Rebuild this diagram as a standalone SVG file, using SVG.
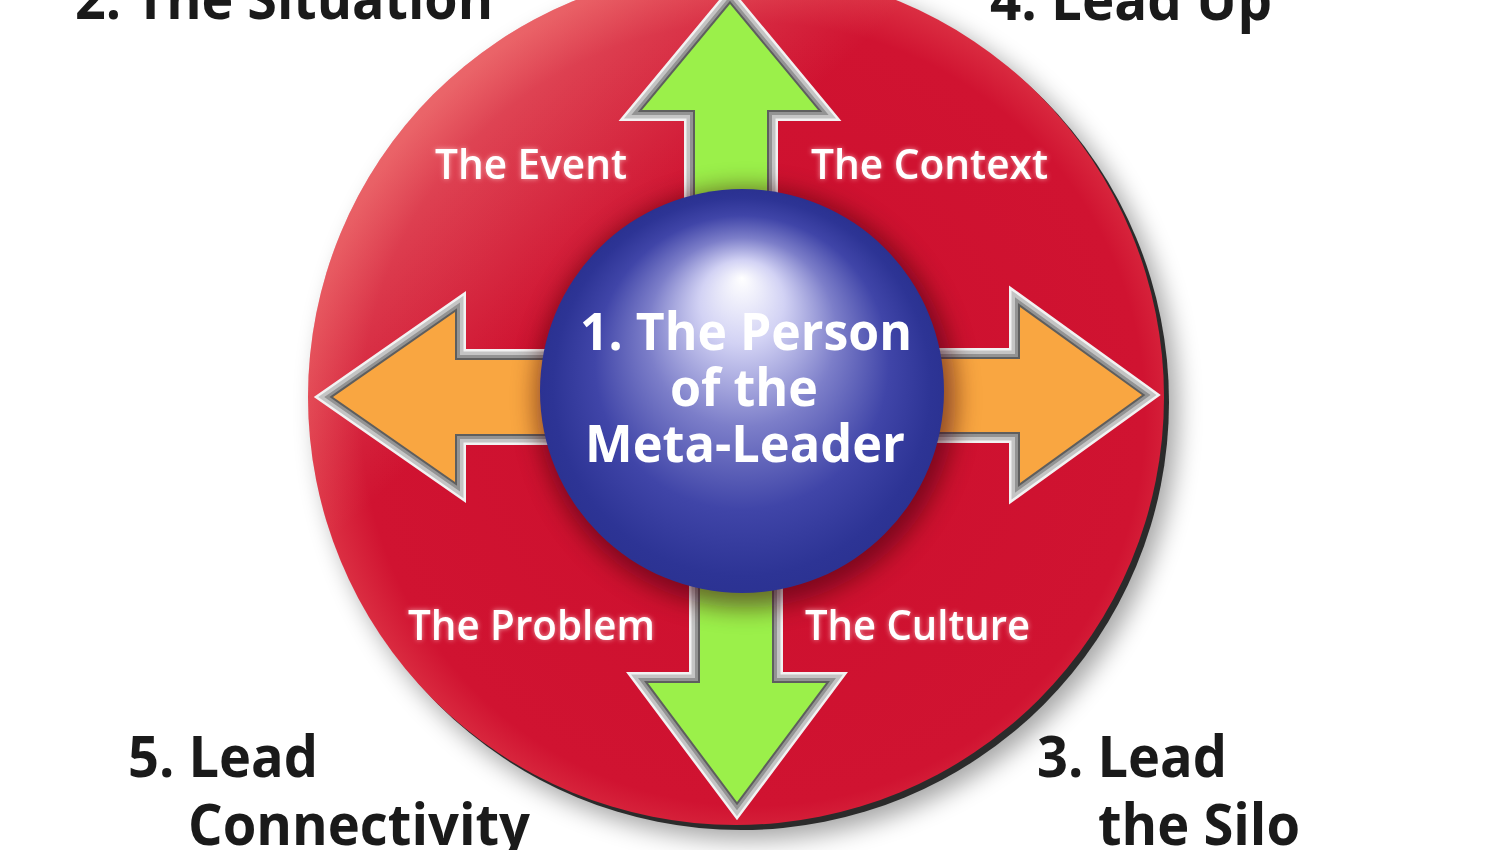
<svg xmlns="http://www.w3.org/2000/svg" xmlns:xlink="http://www.w3.org/1999/xlink" width="1500" height="850" viewBox="0 0 1500 850">
<defs>
<style>
.corner{font-family:"Open Sans","Liberation Sans",sans-serif;font-weight:700;fill:#1a1a1a;}
.lbl{font-family:"Open Sans","Liberation Sans",sans-serif;font-weight:600;font-size:42px;fill:#ffffff;}
.core{font-family:"Open Sans","Liberation Sans",sans-serif;font-weight:700;font-size:52px;fill:#ffffff;}
.b1{fill:none;stroke:#f2f2f2;stroke-width:22;stroke-linejoin:miter;stroke-miterlimit:12;}
.b2{fill:none;stroke:#c4c4c4;stroke-width:17;stroke-linejoin:miter;stroke-miterlimit:12;}
.b3{fill:none;stroke:#939393;stroke-width:10;stroke-linejoin:miter;stroke-miterlimit:12;}
.b4{fill:none;stroke:#5e5e5e;stroke-width:4;stroke-linejoin:miter;stroke-miterlimit:12;}
.green{fill:#9bf04a;}
.orange{fill:#f9a641;}
</style>
<radialGradient id="redG" cx="0.52" cy="0.52" r="0.52">
<stop offset="0" stop-color="#cc0f2e"/>
<stop offset="0.88" stop-color="#d01331"/>
<stop offset="1" stop-color="#dd3345"/>
</radialGradient>
<linearGradient id="redHi" x1="0.12" y1="0.02" x2="0.4" y2="0.32">
<stop offset="0" stop-color="#ffb0a0" stop-opacity="0.55"/>
<stop offset="1" stop-color="#ffb0a0" stop-opacity="0"/>
</linearGradient>
<radialGradient id="sphereG" cx="0.5" cy="0.52" r="0.52" fx="0.5" fy="0.22">
<stop offset="0" stop-color="#ffffff"/>
<stop offset="0.2" stop-color="#d2d2f4"/>
<stop offset="0.45" stop-color="#7c7ec9"/>
<stop offset="0.7" stop-color="#4045a8"/>
<stop offset="0.9" stop-color="#2d3495"/>
<stop offset="1" stop-color="#2a3190"/>
</radialGradient>
<filter id="blur12" x="-20%" y="-20%" width="140%" height="140%"><feGaussianBlur stdDeviation="12"/></filter>
<filter id="glow" x="-10%" y="-30%" width="120%" height="160%">
<feGaussianBlur in="SourceAlpha" stdDeviation="2.5" result="b"/>
<feFlood flood-color="#ffd0d0" flood-opacity="0.7"/>
<feComposite in2="b" operator="in" result="g"/>
<feMerge><feMergeNode in="g"/><feMergeNode in="SourceGraphic"/></feMerge>
</filter>
<path id="pUp" d="M730,4 L818,110 L767,110 L767,395 L695,395 L695,110 L642,110 Z"/>
<path id="pDown" d="M737,802 L826,683 L772,683 L772,395 L700,395 L700,683 L648,683 Z"/>
<path id="pLeft" d="M333,397 L455,312 L455,360 L740,360 L740,434 L455,434 L455,482 Z"/>
<path id="pRight" d="M1142,395 L1020,307 L1020,359 L740,359 L740,432 L1020,432 L1020,483 Z"/>
</defs>
<rect width="1500" height="850" fill="#ffffff"/>

<g id="disc">
<circle cx="748" cy="410" r="430" fill="#000" opacity="0.35" filter="url(#blur12)"/>
<circle cx="741" cy="402" r="428" fill="#2b2b2b"/>
<circle cx="736" cy="397" r="428" fill="url(#redG)"/>
<circle cx="736" cy="397" r="428" fill="url(#redHi)"/>
</g>

<g id="connectors">
<g id="arrow-up">
<use xlink:href="#pUp" class="b1"/><use xlink:href="#pUp" class="b2"/><use xlink:href="#pUp" class="b3"/><use xlink:href="#pUp" class="b4"/><use xlink:href="#pUp" class="green"/>
</g>
<g id="arrow-down">
<use xlink:href="#pDown" class="b1"/><use xlink:href="#pDown" class="b2"/><use xlink:href="#pDown" class="b3"/><use xlink:href="#pDown" class="b4"/><use xlink:href="#pDown" class="green"/>
</g>
<g id="arrow-left">
<use xlink:href="#pLeft" class="b1"/><use xlink:href="#pLeft" class="b2"/><use xlink:href="#pLeft" class="b3"/><use xlink:href="#pLeft" class="b4"/><use xlink:href="#pLeft" class="orange"/>
</g>
<g id="arrow-right">
<use xlink:href="#pRight" class="b1"/><use xlink:href="#pRight" class="b2"/><use xlink:href="#pRight" class="b3"/><use xlink:href="#pRight" class="b4"/><use xlink:href="#pRight" class="orange"/>
</g>
</g>

<g id="sphere">
<circle cx="746" cy="398" r="210" fill="#3a0008" opacity="0.55" filter="url(#blur12)"/>
<circle cx="742" cy="391" r="202" fill="url(#sphereG)"/>
<text class="core" x="746" y="350" text-anchor="middle" textLength="332" lengthAdjust="spacingAndGlyphs">1. The Person</text>
<text class="core" x="744" y="406" text-anchor="middle" textLength="148" lengthAdjust="spacingAndGlyphs">of the</text>
<text class="core" x="745" y="462" text-anchor="middle" textLength="320" lengthAdjust="spacingAndGlyphs">Meta-Leader</text>
</g>

<g id="label-event"><text class="lbl" x="435" y="179" textLength="192" lengthAdjust="spacingAndGlyphs" filter="url(#glow)">The Event</text></g>
<g id="label-context"><text class="lbl" x="811" y="179" textLength="237" lengthAdjust="spacingAndGlyphs" filter="url(#glow)">The Context</text></g>
<g id="label-problem"><text class="lbl" x="408" y="640" textLength="247" lengthAdjust="spacingAndGlyphs" filter="url(#glow)">The Problem</text></g>
<g id="label-culture"><text class="lbl" x="805" y="640" textLength="225" lengthAdjust="spacingAndGlyphs" filter="url(#glow)">The Culture</text></g>

<g id="corner-2"><text class="corner" x="75" y="19" font-size="58" textLength="418" lengthAdjust="spacingAndGlyphs">2. The Situation</text></g>
<g id="corner-4"><text class="corner" x="990" y="20" font-size="58" textLength="282" lengthAdjust="spacingAndGlyphs">4. Lead Up</text></g>
<g id="corner-5">
<text class="corner" x="128" y="777" font-size="58" textLength="190" lengthAdjust="spacingAndGlyphs">5. Lead</text>
<text class="corner" x="188" y="845" font-size="58" textLength="342" lengthAdjust="spacingAndGlyphs">Connectivity</text>
</g>
<g id="corner-3">
<text class="corner" x="1037" y="777" font-size="58" textLength="190" lengthAdjust="spacingAndGlyphs">3. Lead</text>
<text class="corner" x="1098" y="845" font-size="58" textLength="202" lengthAdjust="spacingAndGlyphs">the Silo</text>
</g>
</svg>
